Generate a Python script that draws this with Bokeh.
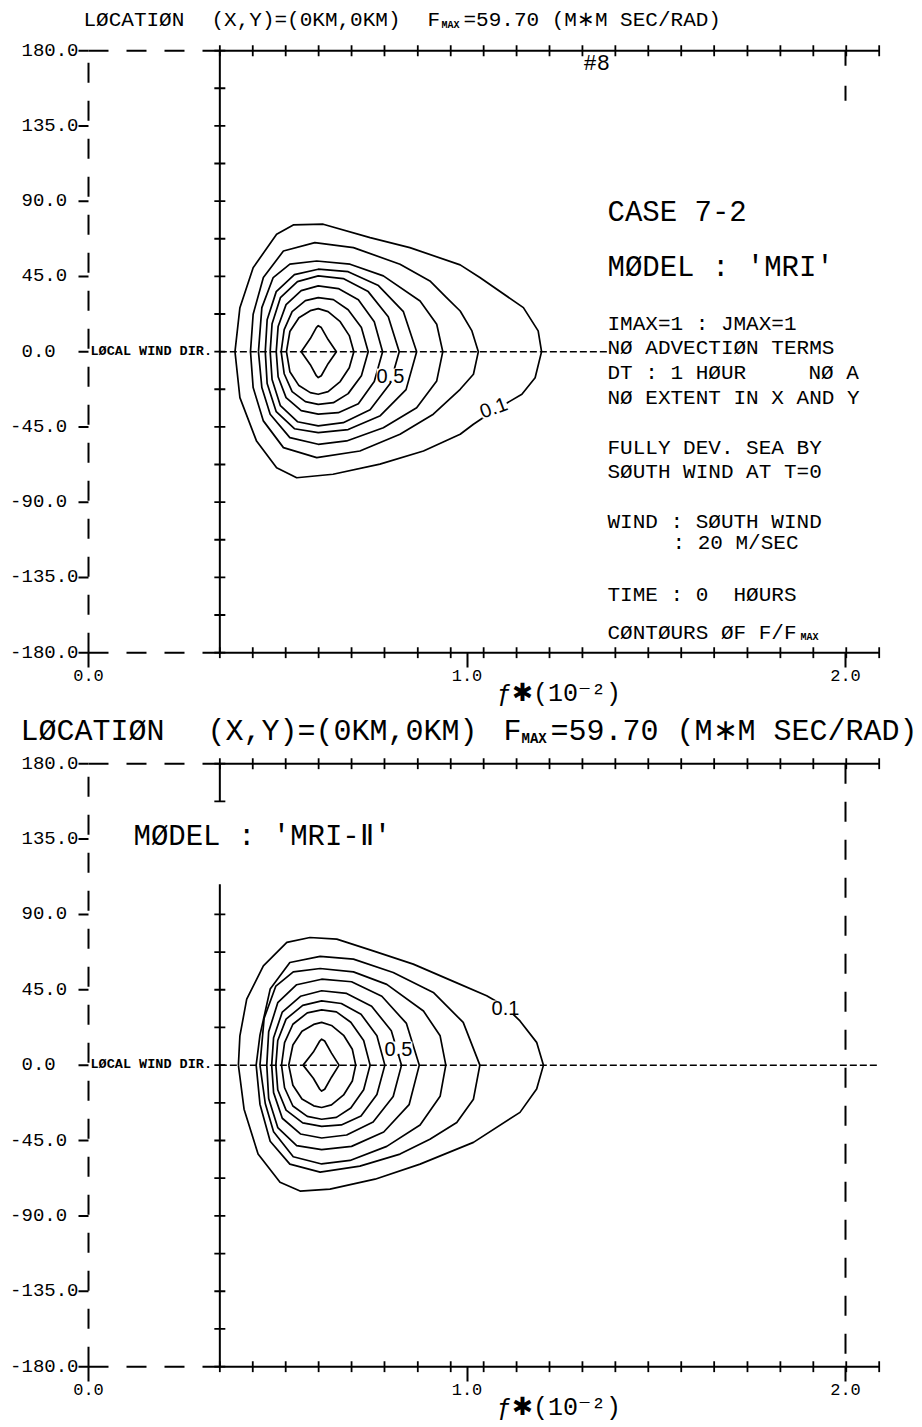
import numpy as np
from bokeh.plotting import figure
from bokeh.models import Range1d, FixedTicker, PrintfTickFormatter, Label
from bokeh.layouts import column
from bokeh.embed import file_html
from bokeh.resources import INLINE

# ---------------- data ----------------
# frequency bins f* (10^-2) -> cross ticks on the solid axes
FREQ_BINS = [0.347, 0.434, 0.521, 0.608, 0.695, 0.782, 0.870, 0.957, 1.044, 1.131,
             1.218, 1.305, 1.392, 1.479, 1.566, 1.653, 1.741, 1.828, 1.915, 2.002, 2.089]
# direction bins (deg) -> cross ticks on the inner vertical axis
DIR_BINS = [-180.0, -157.5, -135.0, -112.5, -90.0, -67.5, -45.0, -22.5, 0.0,
            22.5, 45.0, 67.5, 90.0, 112.5, 135.0, 157.5, 180.0]
DIR_LABELS = [-180, -135, -90, -45, 0, 45, 90, 135, 180]
FREQ_LABELS = [0.0, 1.0, 2.0]
LEVELS = [0.1, 0.2, 0.3, 0.4, 0.5, 0.6, 0.7, 0.8, 0.9]

# ---- upper panel (model 'MRI'), contours of F/Fmax ----
T1_X = [0.387, 0.400, 0.435, 0.497, 0.541, 0.620, 0.744, 0.849, 0.982, 1.034, 1.149, 1.188, 1.197,
        1.180, 1.145, 1.069, 1.017, 0.982, 0.885, 0.770, 0.646, 0.550, 0.497, 0.444, 0.400]
T1_Y = [0, 26.3, 50.2, 70.2, 75.8, 76.2, 68.2, 62.2, 51.9, 44.3, 26.3, 12.4, 0,
        -15.6, -25.5, -35.5, -43.4, -49.4, -59.4, -67.3, -73.3, -75.4, -69.4, -53.5, -27.5]
T2_X = [0.428, 0.435, 0.462, 0.515, 0.598, 0.700, 0.823, 0.902, 0.946, 0.982, 1.013, 1.030,
        1.017, 0.982, 0.911, 0.823, 0.717, 0.603, 0.515, 0.462, 0.435]
T2_Y = [0, 22.4, 44.3, 60.2, 65.2, 62.2, 52.3, 42.3, 32.3, 24.3, 12.4, 0,
        -13.5, -22.5, -37.4, -49.4, -59.4, -63.4, -57.4, -41.4, -21.5]
T3_X = [0.449, 0.458, 0.488, 0.532, 0.603, 0.691, 0.779, 0.876, 0.920, 0.936,
        0.920, 0.867, 0.779, 0.682, 0.607, 0.532, 0.480, 0.458]
T3_Y = [0, 26.3, 44.3, 52.3, 54.2, 52.3, 45.3, 30.3, 16.4, 0,
        -17.5, -33.5, -45.5, -53.4, -55.4, -51.4, -37.4, -21.5]
T4_X = [0.467, 0.472, 0.496, 0.544, 0.607, 0.686, 0.766, 0.832, 0.867,
        0.839, 0.771, 0.686, 0.607, 0.544, 0.496, 0.472]
T4_Y = [0, 19.1, 35.9, 46.1, 49.3, 47.8, 39.5, 23.9, 0,
        -22.7, -38.3, -46.6, -48.4, -46.1, -35.9, -19.1]
T5_X = [0.480, 0.485, 0.507, 0.552, 0.607, 0.673, 0.739, 0.792, 0.821,
        0.797, 0.744, 0.673, 0.607, 0.552, 0.507, 0.485]
T5_Y = [0, 16.7, 32.3, 41.9, 45.3, 43.7, 35.9, 20.9, 0,
        -19.1, -34.7, -42.5, -44.4, -41.9, -32.3, -16.7]
T6_X = [0.496, 0.501, 0.522, 0.562, 0.607, 0.660, 0.713, 0.755, 0.777,
        0.755, 0.713, 0.660, 0.607, 0.562, 0.522, 0.501]
T6_Y = [0, 15.0, 28.1, 36.5, 39.3, 37.7, 31.1, 17.9, 0,
        -17.9, -31.1, -36.5, -37.4, -35.3, -27.5, -15.0]
T7_X = [0.509, 0.517, 0.538, 0.573, 0.607, 0.647, 0.686, 0.721, 0.739,
        0.721, 0.686, 0.647, 0.607, 0.573, 0.538, 0.517]
T7_Y = [0, 13.2, 23.9, 30.5, 32.3, 31.1, 25.1, 14.4, 0,
        -14.4, -25.1, -30.5, -31.5, -29.9, -23.9, -13.2]
T8_X = [0.523, 0.532, 0.556, 0.586, 0.607, 0.633, 0.665, 0.689, 0.701,
        0.689, 0.665, 0.633, 0.607, 0.586, 0.556, 0.532]
T8_Y = [0, 12.0, 20.3, 24.5, 25.7, 23.9, 17.9, 9.6, 0,
        -9.6, -17.9, -23.9, -25.5, -24.5, -20.3, -12.0]
T9_X = [0.562, 0.586, 0.602, 0.607, 0.615, 0.633, 0.655, 0.633, 0.615, 0.607, 0.602, 0.586]
T9_Y = [0, 7.8, 14.4, 15.5, 14.4, 7.2, 0, -7.2, -14.4, -15.5, -14.4, -7.8]

# ---- lower panel (model 'MRI-II'), contours of F/Fmax ----
B1_X = [0.396, 0.400, 0.418, 0.462, 0.524, 0.585, 0.656, 0.752, 0.858, 0.973, 1.052, 1.100, 1.140,
        1.184, 1.202, 1.184, 1.140, 1.017, 0.876, 0.757, 0.638, 0.559, 0.506, 0.448, 0.411]
B1_Y = [0, 17.5, 39.4, 59.3, 73.3, 76.2, 75.2, 68.2, 60.3, 49.1, 41.4, 35.2, 26.4,
        13.6, 0, -14.3, -28.2, -46.1, -59.1, -68.1, -74.0, -75.2, -69.9, -53.1, -26.3]
B2_X = [0.443, 0.453, 0.480, 0.532, 0.612, 0.700, 0.805, 0.911, 0.990, 1.034,
        1.017, 0.973, 0.902, 0.823, 0.717, 0.612, 0.532, 0.480, 0.453]
B2_Y = [0, 17.9, 45.4, 61.3, 64.9, 63.3, 55.3, 43.4, 25.5, 0,
        -20.3, -34.2, -44.2, -53.1, -60.3, -63.9, -59.1, -45.4, -23.3]
B3_X = [0.453, 0.464, 0.495, 0.541, 0.612, 0.700, 0.788, 0.885, 0.929, 0.944,
        0.929, 0.876, 0.788, 0.691, 0.616, 0.541, 0.489, 0.467]
B3_Y = [0, 28.0, 47.2, 55.7, 57.7, 55.7, 48.2, 32.3, 17.5, 0,
        -18.6, -35.7, -48.5, -56.9, -59.0, -54.7, -39.8, -22.9]
B4_X = [0.471, 0.476, 0.500, 0.550, 0.616, 0.695, 0.775, 0.840, 0.874,
        0.847, 0.780, 0.695, 0.616, 0.550, 0.500, 0.476]
B4_Y = [0, 19.9, 37.3, 48.0, 51.3, 49.8, 41.1, 24.9, 0,
        -23.6, -39.9, -48.5, -50.4, -48.0, -37.3, -19.9]
B5_X = [0.484, 0.489, 0.512, 0.560, 0.616, 0.682, 0.748, 0.800, 0.827,
        0.805, 0.752, 0.682, 0.616, 0.560, 0.512, 0.489]
B5_Y = [0, 16.4, 31.7, 41.1, 44.4, 42.8, 35.2, 20.5, 0,
        -18.7, -34.0, -41.7, -43.5, -41.1, -31.7, -16.4]
B6_X = [0.495, 0.500, 0.522, 0.566, 0.616, 0.668, 0.720, 0.762, 0.783,
        0.762, 0.720, 0.668, 0.616, 0.566, 0.522, 0.500]
B6_Y = [0, 14.7, 27.5, 35.7, 38.4, 36.8, 30.4, 17.5, 0,
        -17.5, -30.4, -35.7, -36.6, -34.5, -26.9, -14.7]
B7_X = [0.510, 0.518, 0.540, 0.578, 0.616, 0.655, 0.693, 0.727, 0.744,
        0.727, 0.693, 0.655, 0.616, 0.578, 0.540, 0.518]
B7_Y = [0, 13.5, 24.4, 31.2, 33.0, 31.8, 25.6, 14.7, 0,
        -14.7, -25.6, -31.2, -32.3, -30.6, -24.4, -13.5]
B8_X = [0.529, 0.540, 0.564, 0.595, 0.616, 0.642, 0.674, 0.697, 0.706,
        0.697, 0.674, 0.642, 0.616, 0.595, 0.564, 0.540]
B8_Y = [0, 12.0, 20.2, 24.3, 25.5, 23.7, 17.8, 9.5, 0,
        -9.5, -17.8, -23.7, -25.3, -24.3, -20.2, -12.0]
B9_X = [0.567, 0.594, 0.611, 0.616, 0.624, 0.642, 0.662, 0.642, 0.624, 0.616, 0.611, 0.594]
B9_Y = [0, 7.8, 14.4, 15.5, 14.4, 7.2, 0, -7.2, -14.4, -15.5, -14.4, -7.8]

TOP_XS = [T1_X, T2_X, T3_X, T4_X, T5_X, T6_X, T7_X, T8_X, T9_X]
TOP_YS = [T1_Y, T2_Y, T3_Y, T4_Y, T5_Y, T6_Y, T7_Y, T8_Y, T9_Y]
BOT_XS = [B1_X, B2_X, B3_X, B4_X, B5_X, B6_X, B7_X, B8_X, B9_X]
BOT_YS = [B1_Y, B2_Y, B3_Y, B4_Y, B5_Y, B6_Y, B7_Y, B8_Y, B9_Y]

# ---------------- layout / style ----------------
MONO = "Liberation Mono"
SANS = "Liberation Sans"
NB = "\u00a0"
W = 922
X0_PX = 88          # page x of f* = 0
X_PX = 378.5        # pixels per unit f*
Y_PAD = 3.5

P_TOP = dict(height=712, frame_h=658, top=0, ppd=602 / 360)
P_BOT = dict(height=715, frame_h=660, top=712, ppd=603 / 360)
for P in (P_TOP, P_BOT):
    P["ytop"] = -180 - Y_PAD + P["frame_h"] / P["ppd"]


def put(p, P, px, py, text, size, font=MONO, style="normal", align="left", bg=None, angle=0.0):
    """place a text annotation given its page position in pixels"""
    x = (px - X0_PX) / X_PX
    y = P["ytop"] - (py - P["top"]) / P["ppd"]
    lab = Label(x=x, y=y, x_units="data", y_units="data", text=text,
                text_font=font, text_font_size=f"{size}px", text_font_style=style,
                text_align=align, text_baseline="middle", text_color="black", angle=angle)
    if bg is not None:
        lab.background_fill_color = bg
    p.add_layout(lab)


def dir_label(v):
    s = f"{abs(v):.1f}".ljust(5, NB)
    return ("-" + s) if v < 0 else s


def make_panel(P, cxs, cys, wind_line_end, inner_gap=None, right_full=True):
    p = figure(frame_width=W, frame_height=P["frame_h"],
               x_range=Range1d(-X0_PX / X_PX, (W - X0_PX) / X_PX),
               y_range=Range1d(-180 - Y_PAD, P["ytop"]),
               min_border_left=0, min_border_right=0, min_border_top=0,
               min_border_bottom=P["height"] - P["frame_h"],
               output_backend="svg", toolbar_location=None, title=None,
               background_fill_color="white", border_fill_color="white")
    p.outline_line_color = None
    p.grid.visible = False

    # direction tick labels (the axis sits at the frame edge, labels pulled in)
    ya = p.yaxis[0]
    ya.ticker = FixedTicker(ticks=DIR_LABELS)
    ya.major_label_overrides = {v: dir_label(v) for v in DIR_LABELS}
    ya.axis_line_color = None
    ya.major_tick_line_color = None
    ya.minor_tick_line_color = None
    ya.major_tick_out = 0
    ya.major_tick_in = 0
    ya.major_label_standoff = -(X0_PX - 10)
    ya.major_label_text_font = MONO
    ya.major_label_text_font_size = "19px"
    ya.major_label_text_color = "black"

    # frequency tick labels + axis title
    xa = p.xaxis[0]
    xa.ticker = FixedTicker(ticks=FREQ_LABELS)
    xa.formatter = PrintfTickFormatter(format="%.1f")
    xa.axis_line_color = None
    xa.major_tick_out = 9
    xa.major_tick_in = 6
    xa.major_tick_line_width = 2
    xa.minor_tick_line_color = None
    xa.major_label_standoff = 2
    xa.major_label_text_font = MONO
    xa.major_label_text_font_size = "17px"
    xa.major_label_text_color = "black"
    xa.axis_label = NB * 13 + "ƒ✱(10⁻²)"
    xa.axis_label_text_font = MONO
    xa.axis_label_text_font_size = "25px"
    xa.axis_label_text_font_style = "normal"
    xa.axis_label_text_color = "black"
    xa.axis_label_standoff = -4

    f0, f1 = FREQ_BINS[0], FREQ_BINS[-1]
    dmin, dmax = DIR_BINS[0], DIR_BINS[-1]
    fl = FREQ_LABELS[0]

    # outer dashed direction axis at f* = 0 with its label ticks
    p.segment(x0=[fl], y0=[dmin], x1=[fl], y1=[dmax], line_color="black",
              line_width=2, line_dash="20 18")
    p.ray(x=[fl] * len(DIR_LABELS), y=DIR_LABELS, length=10, angle=np.pi,
          length_units="screen", line_color="black", line_width=2)

    # solid top / bottom lines with cross ticks at every frequency bin
    p.segment(x0=[f0, f0], y0=[dmax, dmin], x1=[f1, f1], y1=[dmax, dmin],
              line_color="black", line_width=2)
    p.scatter(x=FREQ_BINS * 2, y=[dmax] * len(FREQ_BINS) + [dmin] * len(FREQ_BINS),
              marker="dash", angle=np.pi / 2, size=11, line_color="black", line_width=1.8)
    # dashed continuation to f* = 0
    p.segment(x0=[fl, fl], y0=[dmax, dmin], x1=[f0, f0], y1=[dmax, dmin],
              line_color="black", line_width=2, line_dash="20 18")

    # inner vertical direction axis with cross ticks
    if inner_gap is None:
        p.segment(x0=[f0], y0=[dmin], x1=[f0], y1=[dmax], line_color="black", line_width=2)
        tick_dirs = DIR_BINS
    else:
        lo, hi = inner_gap
        p.segment(x0=[f0, f0], y0=[dmin, hi], x1=[f0, f0], y1=[lo, dmax],
                  line_color="black", line_width=2)
        tick_dirs = [d for d in DIR_BINS if d <= lo or d >= hi]
    p.scatter(x=[f0] * len(tick_dirs), y=tick_dirs, marker="dash", size=11,
              line_color="black", line_width=1.8)

    # right dashed line at f* = 2.0
    fr = FREQ_LABELS[-1]
    if right_full:
        p.segment(x0=[fr], y0=[dmax], x1=[fr], y1=[dmin], line_color="black",
                  line_width=2, line_dash="20 18")
    else:
        p.segment(x0=[fr], y0=[dmax], x1=[fr], y1=[147], line_color="black",
                  line_width=2, line_dash="15 20")

    # local wind direction
    p.line(x=[f0, wind_line_end], y=[0, 0], line_color="black", line_width=1.5,
           line_dash="7 3")

    # contours
    xs = [c + c[:1] for c in cxs]
    ys = [c + c[:1] for c in cys]
    p.multi_line(xs=xs, ys=ys, line_color="black", line_width=1.7, line_join="round")
    return p


# ---------------- upper panel ----------------
BLOCK_PX = 607
top = make_panel(P_TOP, TOP_XS, TOP_YS, wind_line_end=(BLOCK_PX - X0_PX) / X_PX, right_full=False)
put(top, P_TOP, 83, 20, "LØCATIØN", 21)
put(top, P_TOP, 211, 20, "(X,Y)=(0KM,0KM)", 21)
put(top, P_TOP, 427, 20, "F", 21)
put(top, P_TOP, 441, 25, "MAX", 10, style="bold")
put(top, P_TOP, 463, 20, "=59.70 (M∗M SEC/RAD)", 21)
put(top, P_TOP, 583, 64, "#8", 22)
put(top, P_TOP, BLOCK_PX, 213, "CASE 7-2", 29)
put(top, P_TOP, BLOCK_PX, 268, "MØDEL : 'MRI'", 29)
put(top, P_TOP, BLOCK_PX, 324, "IMAX=1 : JMAX=1", 21)
put(top, P_TOP, BLOCK_PX, 348, "NØ ADVECTIØN TERMS", 21)
put(top, P_TOP, BLOCK_PX, 373, "DT : 1 HØUR", 21)
put(top, P_TOP, 808, 373, "NØ A", 21)
put(top, P_TOP, BLOCK_PX, 398, "NØ EXTENT IN X AND Y", 21)
put(top, P_TOP, BLOCK_PX, 448, "FULLY DEV. SEA BY", 21)
put(top, P_TOP, BLOCK_PX, 472, "SØUTH WIND AT T=0", 21)
put(top, P_TOP, BLOCK_PX, 522, "WIND : SØUTH WIND", 21)
put(top, P_TOP, 672, 543, ": 20 M/SEC", 21)
put(top, P_TOP, BLOCK_PX, 595, "TIME : 0", 21)
put(top, P_TOP, 733, 595, "HØURS", 21)
put(top, P_TOP, BLOCK_PX, 633, "CØNTØURS ØF F/F", 21)
put(top, P_TOP, 800, 637, "MAX", 10, style="bold")
put(top, P_TOP, 90, 351, "LØCAL WIND DIR.", 13.5, style="bold")
put(top, P_TOP, 390, 375, "0.5", 20, font=SANS, align="center", bg="white")
put(top, P_TOP, 493, 407, "0.1", 20, font=SANS, align="center", bg="white", angle=0.35)

# ---------------- lower panel ----------------
bot = make_panel(P_BOT, BOT_XS, BOT_YS, wind_line_end=FREQ_BINS[-1], inner_gap=(108, 157.5))
put(bot, P_BOT, 20, 731, "LØCATIØN", 30)
put(bot, P_BOT, 207, 731, "(X,Y)=(0KM,0KM)", 30)
put(bot, P_BOT, 503, 731, "F", 30)
put(bot, P_BOT, 521, 738, "MAX", 14, style="bold")
put(bot, P_BOT, 550, 731, "=59.70 (M∗M SEC/RAD)", 30)
put(bot, P_BOT, 133, 837, "MØDEL : 'MRI-Ⅱ'", 29)
put(bot, P_BOT, 90, 1064, "LØCAL WIND DIR.", 13.5, style="bold")
put(bot, P_BOT, 505, 1007, "0.1", 20, font=SANS, align="center", bg="white")
put(bot, P_BOT, 398, 1048, "0.5", 20, font=SANS, align="center", bg="white")

layout = column(top, bot, spacing=0)
open("out.html", "w").write(file_html(layout, INLINE))
